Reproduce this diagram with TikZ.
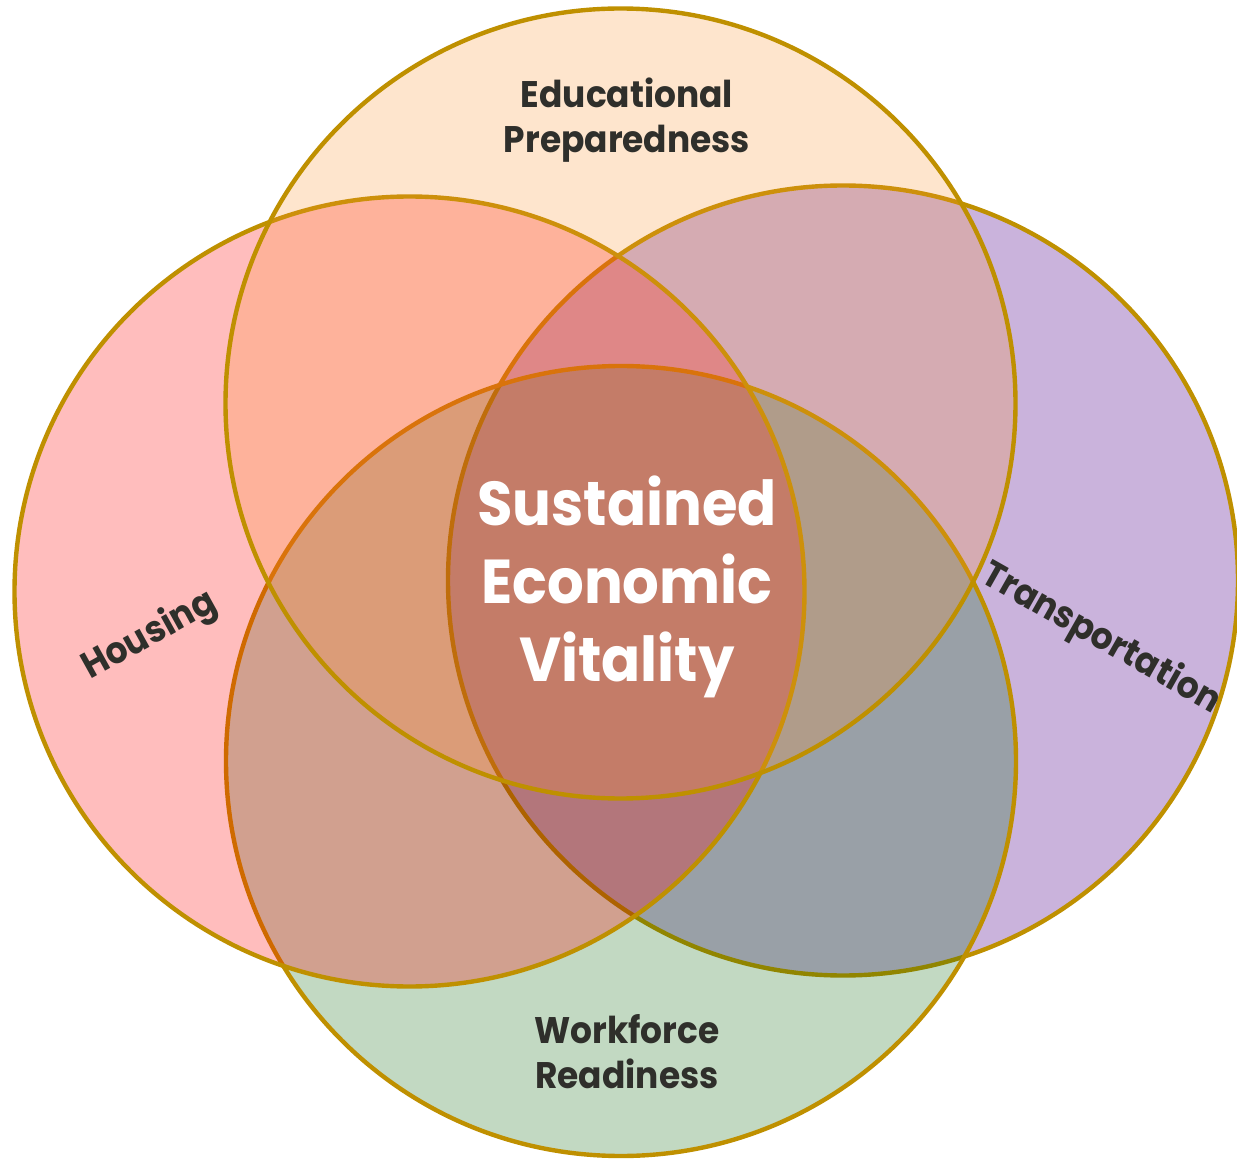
\documentclass[tikz,border=0pt]{standalone}
\usepackage{fontspec}
\setmainfont{Poppins}[FakeStretch=0.93]
\definecolor{ringgold}{RGB}{191,144,0}
\definecolor{fillT}{RGB}{251,147,47}
\definecolor{fillR}{RGB}{112,48,160}
\definecolor{fillB}{RGB}{0,100,0}
\definecolor{fillL}{RGB}{255,0,0}
\definecolor{lblgray}{RGB}{47,47,43}
\tikzset{
  ring/.style={draw=ringgold, line width=2.2pt},
  lbl/.style={text=lblgray, font=\bfseries\fontsize{18.5}{22.5}\selectfont, align=center, inner sep=0pt},
  ctr/.style={text=white, font=\bfseries\fontsize{31}{39}\selectfont, align=center, inner sep=0pt},
}
\begin{document}
\begin{tikzpicture}[x=0.5pt,y=-0.5pt]
\fill[white] (0,0) rectangle (1237,1160);
\useasboundingbox (0,0) rectangle (1237,1160);
\coordinate (cT) at (620.5,403.5);
\coordinate (cB) at (621,761);
\coordinate (cL) at (409.5,591.5);
\coordinate (cR) at (843,580.5);
\filldraw[ring, fill=fillR, fill opacity=0.364] (cR) circle[radius=395];
\filldraw[ring, fill=fillB, fill opacity=0.24] (cB) circle[radius=395];
\filldraw[ring, fill=fillL, fill opacity=0.26] (cL) circle[radius=395];
\filldraw[ring, fill=fillT, fill opacity=0.24] (cT) circle[radius=395];
\node[lbl, anchor=north] (edu) at (627,77) {Educational\\Preparedness};
\node[lbl, anchor=north] (work) at (627,1014) {Workforce\\Readiness};
\node[lbl, rotate=29] (hous) at (150,636) {Housing};
\node[lbl, rotate=-29.5] (trans) at (1101,639) {Transportation};
\node[ctr] (core) at (627,587) {Sustained\\Economic\\Vitality};
\end{tikzpicture}
\end{document}
